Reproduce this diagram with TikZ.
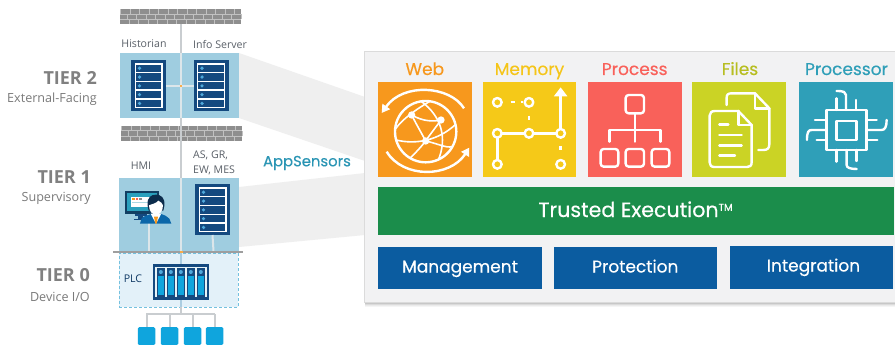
\documentclass[tikz,border=0pt]{standalone}
\usepackage{fontspec}
\setmainfont{Open Sans}
\newfontfamily\geo[FakeBold=0.35]{Poppins}
\usetikzlibrary{arrows.meta}
\definecolor{panelbg}{HTML}{F2F2F3}
\definecolor{beamc}{HTML}{EFEFEF}
\definecolor{tierblue}{HTML}{9FCDE0}
\definecolor{tierzero}{HTML}{E3F1F9}
\definecolor{navy}{HTML}{14497F}
\definecolor{wallc}{HTML}{8E8E8E}
\definecolor{linec}{HTML}{C9CDD0}
\definecolor{stubc}{HTML}{DCE6EA}
\definecolor{dot}{HTML}{4FA9DC}
\definecolor{cyanb}{HTML}{0FA5DD}
\definecolor{ora}{HTML}{F7981D}
\definecolor{yel}{HTML}{F5C918}
\definecolor{redd}{HTML}{F9615A}
\definecolor{lim}{HTML}{CBD325}
\definecolor{tea}{HTML}{2F9FB8}
\definecolor{grn}{HTML}{1B8D4B}
\definecolor{blu}{HTML}{0B5CA0}
\definecolor{tiertxt}{HTML}{808080}
\definecolor{subtxt}{HTML}{7A7A7A}
\definecolor{lbl}{HTML}{5A6068}
\tikzset{
  box/.style={draw=none,inner sep=0,outer sep=0,rectangle},
  tierlab/.style={anchor=east,inner sep=0,text=tiertxt,font=\fontsize{18}{20}\selectfont\bfseries},
  sublab/.style={anchor=east,inner sep=0,text=subtxt,font=\fontsize{12.6}{14}\selectfont},
  small/.style={inner sep=0,text=lbl,font=\fontsize{10.6}{15}\selectfont},
  icontitle/.style={inner sep=0,anchor=base,font=\fontsize{17}{20}\geo\selectfont},
  bartext/.style={inner sep=0,anchor=base,text=white,font=\fontsize{17}{20}\geo\selectfont},
  ic/.style={draw=white,line width=2.4pt,line cap=round,line join=round},
  mainline/.style={draw=linec,line width=2pt},
  stub/.style={draw=stubc,line width=2pt},
  serverpic/.pic={
    \fill[navy] (0,0) rectangle (35,51);
    \fill[white] (3.5,3) rectangle (31.5,48);
    \foreach \r in {0,1,2,3,4}{
      \fill[navy] (4.8,{4.6+8.8*\r}) rectangle (30.2,{11.9+8.8*\r});
      \fill[dot] (8.5,{8.25+8.8*\r}) circle (1.8);
    }
    \coordinate (-w) at (0,26);
    \coordinate (-e) at (35,26);
    \coordinate (-s) at (17.5,51);
  },
  wallpic/.pic={
    \fill[wallc] (0,0) rectangle (121,15.5);
    \foreach \yy in {5,10.3}{\draw[white!45!wallc,line width=.5pt] (0,\yy) -- (121,\yy);}
    \foreach \yy/\ph in {0/0,5.2/3,10.4/1}{
      \draw[white!45!wallc,line width=5pt,dash pattern=on .6pt off 8.9pt,dash phase=\ph pt] (0,{\yy+2.5}) -- (121,{\yy+2.5});
    }
    \coordinate (-s) at (60.5,15.5);
    \coordinate (-n) at (60.5,0);
  }
}
\begin{document}
\begin{tikzpicture}[x=1pt,y=-1pt]
\useasboundingbox (0,0) rectangle (895,345);
\fill[white] (0,0) rectangle (895,345);
% beams
\fill[beamc] (239,53) -- (365,97) -- (365,161) -- (239,118) -- cycle;
\fill[beamc] (239,187) -- (365,173) -- (365,235) -- (239,247) -- cycle;
% panel + shadow
\foreach \o/\c in {5/96,4/92,3/86,2/78,1/68}{
  \fill[black!\the\numexpr100-\c\relax] (365,{52+\o}) rectangle (895,{302+\o});
}
\node[box,draw=black!14,line width=.8pt,fill=panelbg,minimum width=535pt,minimum height=251pt] (panel) at (632,176.5) {};
% tier panels
\node[box,fill=tierblue,minimum width=119pt,minimum height=65pt] (t2) at (179.5,85.5) {};
\node[box,fill=tierblue,minimum width=120pt,minimum height=73pt] (t1) at (179,214.5) {};
\node[box,fill=tierzero,draw=tierblue!70!cyanb,densely dashed,line width=.8pt,minimum width=119pt,minimum height=54pt] (t0) at (178.7,280.3) {};
% walls
\pic (w1) at (120,9) {wallpic};
\pic (w2) at (121,125.5) {wallpic};
% main line
\coordinate (ltop) at (181,24);
\coordinate (lbar) at (181,252);
\coordinate (lbot) at (181,314);
\draw[mainline] (ltop) -- (lbar);
\draw[stub] (181,53) -- (181,118);
\draw[stub] (181,178) -- (181,251);
\draw[draw=tierblue!70!blu!60,line width=1.5pt] (lbar) -- (181,307);
\draw[mainline] (181,307) -- (lbot);
% servers
\pic (s1) at (131,60) {serverpic};
\pic (s2) at (193.5,60) {serverpic};
\pic (s3) at (195,184) {serverpic};
\draw[stub] (s1-e) -- (s2-w);
\fill[ora!80!white] (180,85) rectangle (182,87);
\coordinate (hmib) at (149,222);
\coordinate (bar1) at (149,251);
\coordinate (bar2) at (213.5,251);
\draw[stub] (hmib) -- (bar1);
\draw[stub] (s3-s) -- (bar2);
\coordinate (barl) at (113,252);
\coordinate (barr) at (243,252);
\draw[draw=black!38,line width=2pt] (barl) -- (barr);
\fill[ora!80!white] (179.5,251) rectangle (182.5,253);
% HMI
\begin{scope}[shift={(0,170)},x=.3333pt,y=-.3333pt]
  \fill[navy!70!black!90!tea] (375,63) rectangle (478,133);
  \fill[tea!85!cyanb] (382,69) rectangle (471,122);
  \fill[white] (392,80) rectangle (460,112);
  \fill[ora] (396,84) rectangle (404,91);
  \fill[redd] (407,84) rectangle (415,91);
  \fill[black!45] (418,84) rectangle (426,91);
  \fill[tea!40] (396,97) rectangle (455,100);
  \fill[navy] (405,133) rectangle (440,137);
  \fill[navy] (403,147) rectangle (442,150);
  \fill[navy] (415,135) rectangle (430,148);
  \fill[blu!85!cyanb] (420,161) -- (425,145) .. controls (432,137) and (445,136) .. (452,132) -- (484,132) .. controls (492,136) and (503,138) .. (508,146) -- (514,161) -- cycle;
  \fill[white] (452,131) -- (484,131) -- (468,161) -- cycle;
  \fill[ora] (462,140) -- (474,140) -- (470,161) -- (466,161) -- cycle;
  \fill[navy!60!black] (443,108) .. controls (440,80) and (455,74) .. (468,74) .. controls (482,74) and (496,82) .. (493,108) -- (490,122) -- (446,122) -- cycle;
  \fill[white] (447,106) .. controls (455,102) and (470,100) .. (475,92) .. controls (482,96) and (488,100) .. (489,106) .. controls (489,125) and (478,134) .. (468,134) .. controls (458,134) and (447,125) .. (447,106) -- cycle;
\end{scope}
% PLC
\node[box,fill=navy,minimum width=56.5pt,minimum height=36.5pt] (plc) at (180.8,282.2) {};
\begin{scope}[shift={(0,170)},x=.3333pt,y=-.3333pt]
  \fill[white!75!tierblue] (465,290) rectangle (620,382);
  \foreach \m in {470,500,530,560,590}{
    \fill[navy] (\m,293) rectangle ({\m+25},380);
    \fill[cyanb] ({\m+3},318) rectangle ({\m+22},376);
    \fill[dot] ({\m+12.5},306) circle (6);
  }
\end{scope}
% device bus
\coordinate (busl) at (146,314);
\coordinate (busr) at (215,314);
\draw[mainline] (busl) -- (busr);
\foreach \n/\x in {a/146.5,b/169.5,c/192.5,d/214.5}{
  \node[box,fill=cyanb,rounded corners=1.5pt,minimum width=17.5pt,minimum height=18pt] (dev\n) at (\x,336) {};
  \draw[mainline] (\x,314) -- (dev\n.north);
}
% left labels
\node[tierlab] (t2a) at (97,78) {TIER 2};
\node[sublab] (t2b) at (97,99) {External-Facing};
\node[tierlab] (t1a) at (91,177) {TIER 1};
\node[sublab] (t1b) at (91,198) {Supervisory};
\node[tierlab] (t0a) at (90,275) {TIER 0};
\node[sublab] (t0b) at (90,297) {Device I/O};
\node[small] (hist) at (144,44) {Historian};
\node[small] (info) at (220,44) {Info Server};
\node[small] (hmi) at (141,166) {HMI};
\node[small,anchor=west,align=left] (as) at (193,162.5) {AS, GR,\\EW, MES};
\node[small,text=navy!80!black] (plct) at (133,279) {PLC};
\node[inner sep=0,text=tea!85!blu,font=\fontsize{14.8}{17}\geo\selectfont] (apps) at (307,163) {AppSensors};
% icon tiles
\node[box,fill=ora,minimum width=94pt,minimum height=94.5pt] (web) at (424.8,129.5) {};
\node[box,fill=yel,minimum width=93.5pt,minimum height=94.5pt] (mem) at (529.7,129.5) {};
\node[box,fill=redd,minimum width=94pt,minimum height=94.5pt] (proc) at (634.7,129.5) {};
\node[box,fill=lim,minimum width=94pt,minimum height=94.5pt] (file) at (739,129.5) {};
\node[box,fill=tea,minimum width=94pt,minimum height=94.5pt] (cpu) at (846,129.5) {};
\node[icontitle,text=ora] (webt) at (424.8,75) {Web};
\node[icontitle,text=yel!92!ora] (memt) at (529.5,75) {Memory};
\node[icontitle,text=redd] (proct) at (634.7,75) {Process};
\node[icontitle,text=lim!90!black] (filet) at (740,75) {Files};
\node[icontitle,text=tea] (cput) at (846.5,75) {Processor};
% bars
\node[box,fill=grn,minimum width=516pt,minimum height=48pt] (trust) at (635.5,211) {};
\node[bartext,font=\fontsize{20.6}{22}\geo\selectfont] (trustt) at (635.5,217) {Trusted Execution\raisebox{.55ex}{\fontsize{10}{11}\selectfont TM}};
\node[box,fill=blu,minimum width=164pt,minimum height=42.5pt] (mgmt) at (460,268.2) {};
\node[box,fill=blu,minimum width=163.5pt,minimum height=42.5pt] (prot) at (635.3,268.2) {};
\node[box,fill=blu,minimum width=163.5pt,minimum height=42.5pt] (integ) at (811.7,267.5) {};
\node[bartext] (mgmtt) at (460,272.5) {Management};
\node[bartext] (prott) at (635.3,272.5) {Protection};
\node[bartext] (integt) at (813.5,271.5) {Integration};
% icons (drawn in zoom coordinates)
\begin{scope}[shift={(360,45)},x=.3333pt,y=-.3333pt]
  % Web
  \draw[ic] (197,260) circle (92);
  \draw[ic,line cap=butt,-{Triangle[length=8pt,width=9pt]}] (312,190) .. controls (270,122) and (130,112) .. (65,204);
  \draw[ic,line cap=butt,-{Triangle[length=8pt,width=9pt]}] (80,320) .. controls (130,402) and (270,398) .. (328,308);
  \draw[ic,line width=1.6pt] (155,210) .. controls (170,240) and (185,265) .. (197,288);
  \draw[ic,line width=1.6pt] (108,250) .. controls (125,225) and (165,195) .. (208,170);
  \draw[ic,line width=1.6pt] (185,170) .. controls (245,215) and (262,280) .. (235,345);
  \draw[ic,line width=1.6pt] (108,285) .. controls (170,300) and (235,285) .. (285,240);
  \draw[ic,line width=1.6pt] (243,225) .. controls (225,250) and (205,275) .. (197,288) .. controls (180,310) and (160,330) .. (150,340);
  \draw[ic,line width=1.6pt] (155,210) .. controls (190,230) and (220,230) .. (243,225);
  \draw[ic,line width=1.6pt] (197,288) .. controls (230,295) and (260,310) .. (275,305);
  \foreach \p in {(155,210),(243,225),(197,288)}{\fill[white] \p circle (11);}
  % Memory
  \draw[ic,line cap=butt] (452,171) -- (466,171);
  \draw[ic,line cap=butt] (482,171) -- (490,171);
  \draw[ic,line cap=butt] (507,212) -- (507,224);
  \draw[ic,line cap=butt] (602,304) -- (602,316);
  \draw[ic] (412,265) -- (600,265);
  \draw[ic] (412,265) -- (412,358);
  \draw[ic,line cap=butt,-{Triangle[length=9pt,width=13pt]}] (602,265) -- (602,127);
  \foreach \p in {(412,172),(507,172),(412,265),(507,265),(602,265),(412,358),(602,358)}{
    \draw[ic,fill=yel] \p circle (13);
  }
  % Process
  \draw[ic,rounded corners=3pt] (797,150) rectangle (852,205);
  \draw[ic] (825,205) -- (825,290);
  \draw[ic] (748,290) -- (748,255) -- (902,255) -- (902,290);
  \draw[ic,rounded corners=3pt] (722,312) rectangle (775,365);
  \draw[ic,rounded corners=3pt] (797,312) rectangle (852,365);
  \draw[ic,rounded corners=3pt] (875,312) rectangle (928,365);
\end{scope}
\begin{scope}[shift={(660,45)},x=.3333pt,y=-.3333pt]
  % Files
  \draw[ic] (200,180) -- (200,158) .. controls (200,148) and (205,145) .. (215,145) -- (285,145) -- (328,190) -- (328,298) .. controls (328,310) and (322,315) .. (310,315) -- (295,315);
  \draw[ic] (285,145) -- (285,190) -- (328,190);
  \draw[ic] (165,198) -- (235,198) -- (275,240) -- (275,352) .. controls (275,362) and (270,366) .. (262,366) -- (163,366) .. controls (153,366) and (149,360) .. (149,352) -- (149,212) .. controls (149,203) and (155,198) .. (165,198) -- cycle;
  \draw[ic] (235,198) -- (235,240) -- (275,240);
  \draw[ic] (178,238) -- (205,238);
  \draw[ic] (178,270) -- (245,270);
  \draw[ic] (178,301) -- (245,301);
  \draw[ic] (178,332) -- (225,332);
  % Processor
  \draw[ic,line width=2.8pt] (500,195) rectangle (620,315);
  \draw[ic,line width=2.8pt] (530,228) rectangle (590,285);
  \draw[ic] (558,195) -- (558,150) .. controls (558,142) and (552,138) .. (530,138);
  \draw[ic] (530,195) -- (530,160);
  \draw[ic] (588,195) -- (588,165);
  \draw[ic] (530,315) -- (530,350);
  \draw[ic] (560,315) -- (560,360) .. controls (560,368) and (570,372) .. (590,372);
  \draw[ic] (590,315) -- (590,348);
  \draw[ic] (500,225) -- (465,225);
  \draw[ic] (500,255) -- (455,255) .. controls (445,255) and (441,262) .. (441,285);
  \draw[ic] (500,285) -- (470,285);
  \draw[ic] (620,225) -- (650,225);
  \draw[ic] (620,255) -- (665,255) .. controls (675,255) and (680,245) .. (680,225);
  \draw[ic] (620,285) -- (652,285);
\end{scope}
\end{tikzpicture}
\end{document}
